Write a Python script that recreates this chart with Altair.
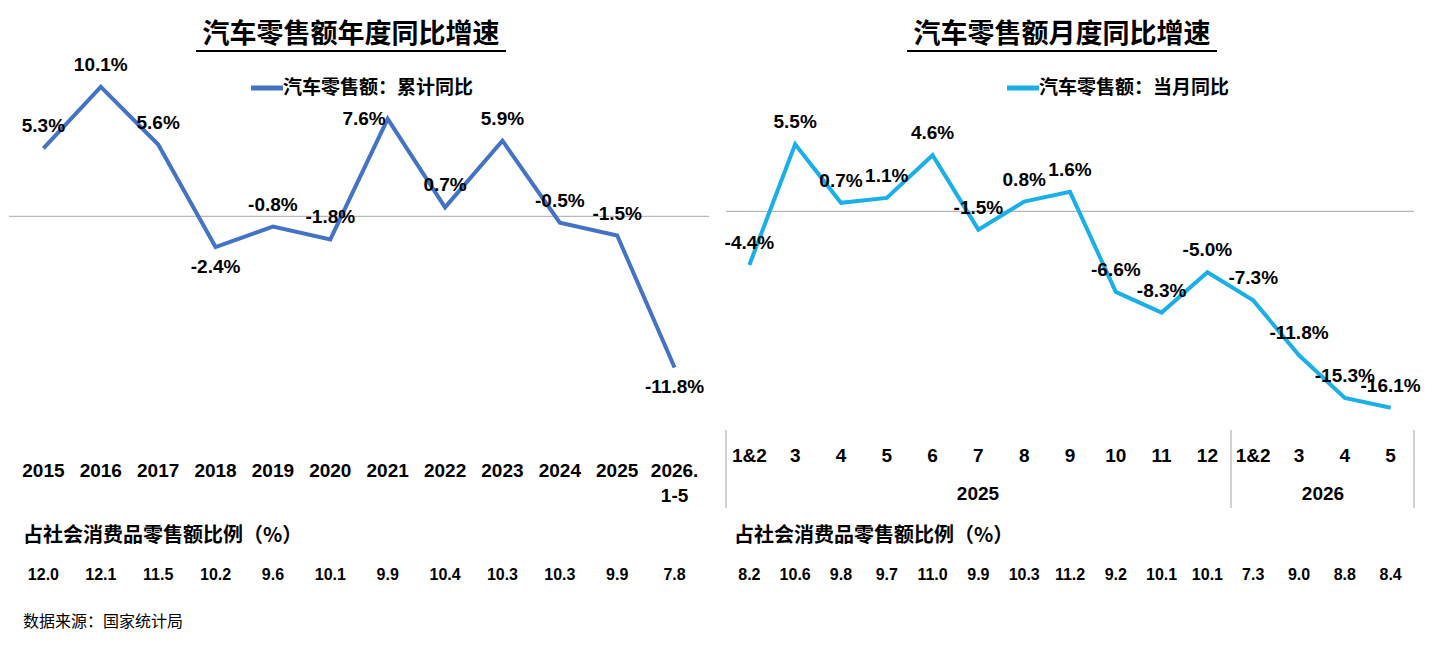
import altair as alt
import pandas as pd

years = ["2015","2016","2017","2018","2019","2020","2021","2022","2023","2024","2025","2026.\n1-5"]
ann_vals = [5.3,10.1,5.6,-2.4,-0.8,-1.8,7.6,0.7,5.9,-0.5,-1.5,-11.8]
ann_ratio = ["12.0","12.1","11.5","10.2","9.6","10.1","9.9","10.4","10.3","10.3","9.9","7.8"]
ann_below = ["2018","2026.\n1-5"]
ann_left = ["2021"]

months = ["1&2","3","4","5","6","7","8","9","10","11","12","1&2 ","3 ","4 ","5 "]
mon_vals = [-4.4,5.5,0.7,1.1,4.6,-1.5,0.8,1.6,-6.6,-8.3,-5.0,-7.3,-11.8,-15.3,-16.1]
mon_ratio = ["8.2","10.6","9.8","9.7","11.0","9.9","10.3","11.2","9.2","10.1","10.1","7.3","9.0","8.8","8.4"]

LAT = "Liberation Sans"
CJK = "Noto Sans CJK SC"
H = 360

def lab(v):
    return f"{v:.1f}%"

def panel(cats, vals, ratios, color, dom, width, pad, title, legend, lx, below=(), leftl=()):
    pos = ["below" if c in below else ("left" if c in leftl else "above") for c in cats]
    df = pd.DataFrame({"c": cats, "v": vals, "l": [lab(v) for v in vals], "r": ratios, "pos": pos})
    X = alt.X("c:N", sort=cats, axis=None, scale=alt.Scale(type="point", padding=pad))
    Y = alt.Y("v:Q", axis=None, scale=alt.Scale(domain=dom))
    base = alt.Chart(df)
    zero = alt.Chart(pd.DataFrame({"z": [0]})).mark_rule(color="#a6a6a6", strokeWidth=1).encode(
        y=alt.Y("z:Q", scale=alt.Scale(domain=dom), axis=None), x=alt.value(0), x2=alt.value(width))
    line = base.mark_line(color=color, strokeWidth=4).encode(x=X, y=Y)
    above_t = base.transform_filter("datum.pos == 'above'").mark_text(
        font=LAT, fontWeight="bold", fontSize=19, dy=-22).encode(x=X, y=Y, text="l:N")
    below_t = base.transform_filter("datum.pos == 'below'").mark_text(
        font=LAT, fontWeight="bold", fontSize=19, dy=20).encode(x=X, y=Y, text="l:N")
    left_t = base.transform_filter("datum.pos == 'left'").mark_text(
        font=LAT, fontWeight="bold", fontSize=19, align="right", dx=-2).encode(x=X, y=Y, text="l:N")
    ratio_t = base.mark_text(font=LAT, fontWeight="bold", fontSize=16).encode(
        x=X, y=alt.value(515), text="r:N")
    cx = width / 2 - 8
    t = alt.Chart(pd.DataFrame({"t": [title]})).mark_text(
        font=CJK, fontWeight="bold", fontSize=27).encode(
        x=alt.value(cx), y=alt.value(-25), text="t:N")
    ul = alt.Chart(pd.DataFrame({"a": [1]})).mark_rule(color="black", strokeWidth=2).encode(
        x=alt.value(cx - 155), x2=alt.value(cx + 155), y=alt.value(-9))
    lg_line = alt.Chart(pd.DataFrame({"a": [1]})).mark_rule(color=color, strokeWidth=5).encode(
        x=alt.value(lx), x2=alt.value(lx + 32), y=alt.value(28))
    lg_text = alt.Chart(pd.DataFrame({"t": [legend]})).mark_text(
        font=CJK, fontWeight="bold", fontSize=19, align="left").encode(
        x=alt.value(lx + 32), y=alt.value(28), text="t:N")
    rt = alt.Chart(pd.DataFrame({"t": ["占社会消费品零售额比例（%）"]})).mark_text(
        font=CJK, fontWeight="bold", fontSize=20, align="left").encode(
        x=alt.value(14 if lx < 260 else 8), y=alt.value(476), text="t:N")
    return [zero, line, above_t, below_t, left_t, ratio_t, t, ul, lg_line, lg_text, rt], X

# left
lw = 700
llayers, lX = panel(years, ann_vals, ann_ratio, "#4472c4", [-15.9, 12.2], lw, 0.6,
                    "汽车零售额年度同比增速", "汽车零售额：累计同比", 242, ann_below, ann_left)
ldf = pd.DataFrame({"c": years})
lxlab = alt.Chart(ldf).mark_text(font=LAT, fontWeight="bold", fontSize=19, lineBreak="\n",
                                 baseline="top", lineHeight=25).encode(
    x=lX, y=alt.value(402), text="c:N")
src = alt.Chart(pd.DataFrame({"t": ["数据来源：国家统计局"]})).mark_text(
    font=CJK, fontSize=16, align="left").encode(x=alt.value(14), y=alt.value(562), text="t:N")
left = alt.layer(*llayers, lxlab, src).properties(width=lw, height=H)

# right
rw = 688
rlayers, rX = panel(months, mon_vals, mon_ratio, "#1aafe6", [-17.1, 12.4], rw, 0.51,
                    "汽车零售额月度同比增速", "汽车零售额：当月同比", 281)
rdf = pd.DataFrame({"c": months})
rxlab = alt.Chart(rdf).mark_text(font=LAT, fontWeight="bold", fontSize=19).encode(
    x=rX, y=alt.value(396), text="c:N")
seps = alt.Chart(pd.DataFrame({"s": [0, 505, 688]})).mark_rule(color="#a6a6a6").encode(
    x=alt.X("s:Q", scale=alt.Scale(domain=[0, rw]), axis=None), y=alt.value(370), y2=alt.value(448))
yrs = alt.Chart(pd.DataFrame({"y": ["2025", "2026"], "p": [252, 597]})).mark_text(
    font=LAT, fontWeight="bold", fontSize=19).encode(
    x=alt.X("p:Q", scale=alt.Scale(domain=[0, rw]), axis=None), y=alt.value(434), text="y:N")
right = alt.layer(*rlayers, rxlab, seps, yrs).resolve_scale(x="independent").properties(width=rw, height=H)

chart = alt.hconcat(left, right, spacing=14).properties(
    padding={"left": 0, "top": 13, "right": 0, "bottom": 0},
).configure(background="white").configure_view(stroke=None, strokeWidth=0)

chart.save("out.html", embed_options={"renderer": "svg", "actions": False})
